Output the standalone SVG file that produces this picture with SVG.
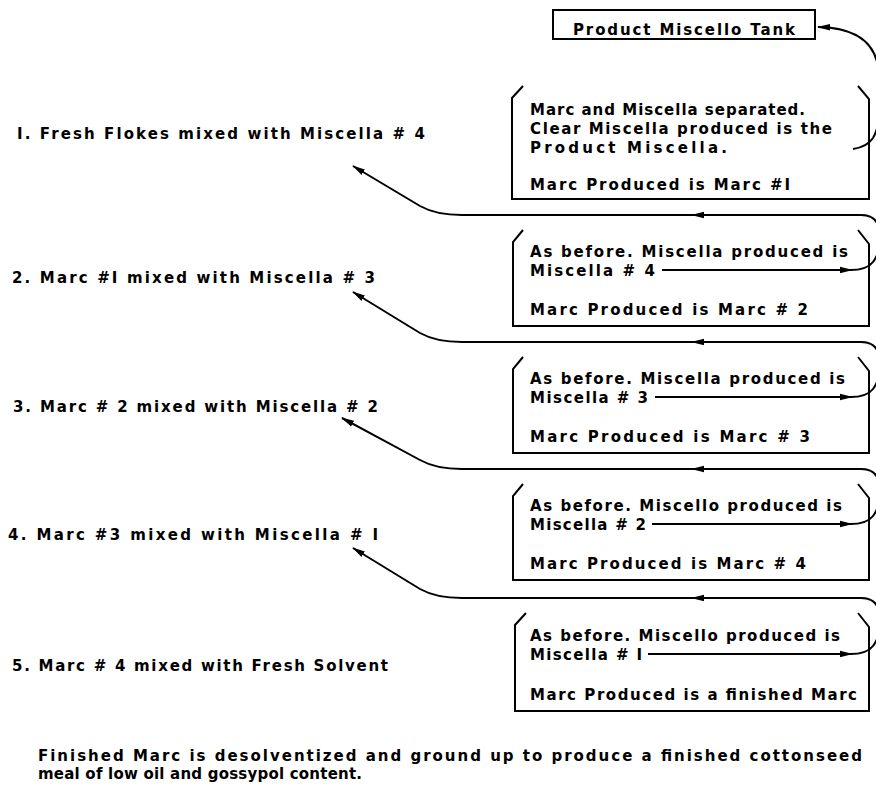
<svg xmlns="http://www.w3.org/2000/svg" width="876" height="787" viewBox="0 0 876 787">
<style>
text{font-family:"DejaVu Sans","Liberation Sans",Arial,sans-serif;font-weight:bold;font-size:15px;fill:#000}
.frame{fill:none;stroke:#000;stroke-width:2;stroke-linejoin:miter}
.wire{fill:none;stroke:#000;stroke-width:2}
</style>
<defs>
<marker id="ah" viewBox="0 0 13 8" refX="12" refY="4" markerWidth="13" markerHeight="8" markerUnits="userSpaceOnUse" orient="auto">
<path d="M0,0.8 L13,4 L0,7.2 Z" fill="#000"/>
</marker>
</defs>
<rect width="876" height="787" fill="#fff"/>

<g id="node-tank">
<rect class="frame" x="553" y="10" width="262" height="29"/>
<text x="573" y="35" textLength="222" lengthAdjust="spacing">Product Miscello Tank</text>
</g>

<g id="node-box1">
<path class="frame" d="M523,86 L512,98 L512,199 L869,199 L869,99 L858,86"/>
<text x="530" y="115" textLength="275" lengthAdjust="spacing">Marc and Miscella separated.</text>
<text x="530" y="134" textLength="302" lengthAdjust="spacing">Clear Miscella produced is the</text>
<text x="530" y="153" textLength="197" lengthAdjust="spacing">Product Miscella.</text>
<text x="530" y="190" textLength="260" lengthAdjust="spacing">Marc Produced is Marc #I</text>
</g>

<g id="node-box2">
<path class="frame" d="M523,230 L513,242 L513,326 L869,326 L869,244 L858,230"/>
<text x="530" y="257" textLength="318" lengthAdjust="spacing">As before. Miscella produced is</text>
<text x="530" y="276" textLength="125" lengthAdjust="spacing">Miscella # 4</text>
<text x="530" y="315" textLength="278" lengthAdjust="spacing">Marc Produced is Marc # 2</text>
</g>

<g id="node-box3">
<path class="frame" d="M523,357 L513,369 L513,453 L869,453 L869,371 L858,357"/>
<text x="530" y="384" textLength="315" lengthAdjust="spacing">As before. Miscella produced is</text>
<text x="530" y="403" textLength="118" lengthAdjust="spacing">Miscella # 3</text>
<text x="530" y="442" textLength="280" lengthAdjust="spacing">Marc Produced is Marc # 3</text>
</g>

<g id="node-box4">
<path class="frame" d="M523,484 L513,496 L513,580 L869,580 L869,498 L858,484"/>
<text x="530" y="511" textLength="312" lengthAdjust="spacing">As before. Miscello produced is</text>
<text x="530" y="530" textLength="116" lengthAdjust="spacing">Miscella # 2</text>
<text x="530" y="569" textLength="276" lengthAdjust="spacing">Marc Produced is Marc # 4</text>
</g>

<g id="node-box5">
<path class="frame" d="M526,613 L515,625 L515,711 L869,711 L869,627 L858,613"/>
<text x="530" y="641" textLength="310" lengthAdjust="spacing">As before. Miscello produced is</text>
<text x="530" y="660" textLength="112" lengthAdjust="spacing">Miscella # I</text>
<text x="530" y="700" textLength="327" lengthAdjust="spacing">Marc Produced is a finished Marc</text>
</g>

<g id="node-step1"><text x="17" y="139" textLength="408" lengthAdjust="spacing">I. Fresh Flokes mixed with Miscella # 4</text></g>
<g id="node-step2"><text x="12" y="283" textLength="363" lengthAdjust="spacing">2. Marc #I mixed with Miscella # 3</text></g>
<g id="node-step3"><text x="13" y="412" textLength="365" lengthAdjust="spacing">3. Marc # 2 mixed with Miscella # 2</text></g>
<g id="node-step4"><text x="8" y="540" textLength="370" lengthAdjust="spacing">4. Marc #3 mixed with Miscella # I</text></g>
<g id="node-step5"><text x="12" y="671" textLength="376" lengthAdjust="spacing">5. Marc # 4 mixed with Fresh Solvent</text></g>

<g id="node-note">
<text x="38" y="761" textLength="824" lengthAdjust="spacing">Finished Marc is desolventized and ground up to produce a finished cottonseed</text>
<text x="38" y="779" textLength="324" lengthAdjust="spacing">meal of low oil and gossypol content.</text>
</g>

<g id="connectors">
<!-- box1 to tank -->
<path class="wire" d="M853,149 Q867,147 873,138 Q879,128 879,112 L879,78 Q879,28 818,27" marker-end="url(#ah)"/>
<!-- box2 miscella #4 to step1 -->
<path class="wire" d="M662,270 L852,270" marker-end="url(#ah)"/>
<path class="wire" d="M850,270 Q867,270 873,262 Q879,254 879,244 L879,233 Q879,215 861,215 L692,215" marker-end="url(#ah)"/>
<path class="wire" d="M700,215 L462,215 Q436,215 420,206 L353,166" marker-end="url(#ah)"/>
<!-- box3 miscella #3 to step2 -->
<path class="wire" d="M655,397 L852,397" marker-end="url(#ah)"/>
<path class="wire" d="M850,397 Q867,397 873,389 Q879,381 879,371 L879,360 Q879,342 861,342 L692,342" marker-end="url(#ah)"/>
<path class="wire" d="M700,342 L462,342 Q436,342 420,333 L353,292" marker-end="url(#ah)"/>
<!-- box4 miscella #2 to step3 -->
<path class="wire" d="M652,524 L852,524" marker-end="url(#ah)"/>
<path class="wire" d="M850,524 Q867,524 873,516 Q879,508 879,498 L879,487 Q879,469 861,469 L692,469" marker-end="url(#ah)"/>
<path class="wire" d="M700,469 L462,469 Q436,469 420,460 L342,418" marker-end="url(#ah)"/>
<!-- box5 miscella #1 to step4 -->
<path class="wire" d="M648,654 L852,654" marker-end="url(#ah)"/>
<path class="wire" d="M850,654 Q867,654 873,646 Q879,638 879,628 L879,616 Q879,598 861,598 L692,598" marker-end="url(#ah)"/>
<path class="wire" d="M700,598 L462,598 Q436,598 420,589 L353,548" marker-end="url(#ah)"/>
</g>
</svg>
